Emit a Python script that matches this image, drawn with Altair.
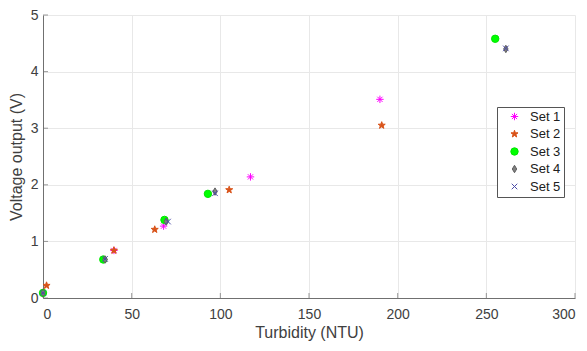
import altair as alt
import pandas as pd

# ---- data ----
set_names = ["Set 1", "Set 2", "Set 3", "Set 4", "Set 5"]
set1_x = [0, 40, 68, 117, 190]
set1_y = [0.09, 0.84, 1.27, 2.14, 3.51]
set2_x = [2, 40, 63, 105, 191]
set2_y = [0.22, 0.84, 1.21, 1.91, 3.05]
set3_x = [0, 34, 68.5, 93, 255]
set3_y = [0.09, 0.68, 1.38, 1.84, 4.58]
set4_x = [0, 35, 69.5, 97, 261]
set4_y = [0.09, 0.68, 1.35, 1.88, 4.40]
set5_x = [0, 35, 70.5, 97, 261]
set5_y = [0.09, 0.69, 1.35, 1.85, 4.41]
x_ticks = [0, 50, 100, 150, 200, 250, 300]
y_ticks = [0, 1, 2, 3, 4, 5]

rows = []
for name, xs, ys in zip(set_names,
                        [set1_x, set2_x, set3_x, set4_x, set5_x],
                        [set1_y, set2_y, set3_y, set4_y, set5_y]):
    for a, b in zip(xs, ys):
        rows.append({"set": name, "turbidity": a, "voltage": b})
df = pd.DataFrame(rows)

asterisk = "M-1,0L1,0M0,-1L0,1M-0.7,-0.7L0.7,0.7M-0.7,0.7L0.7,-0.7"
star = ("M0,-1L0.235,-0.324L0.951,-0.309L0.38,0.124L0.588,0.809L0,0.4"
        "L-0.588,0.809L-0.38,0.124L-0.951,-0.309L-0.235,-0.324Z")
diamond = "M0,-1L0.6,0L0,1L-0.6,0Z"
xmark = "M-0.75,-0.75L0.75,0.75M-0.75,0.75L0.75,-0.75"

shapes = [asterisk, star, "circle", diamond, xmark]
strokes = ["#FF00FF", "#D95319", "#00E600", "#5F5F5F", "#4B4BA8"]
fills = ["transparent", "#D95319", "#00FF00", "#808080", "transparent"]
sizes = [55, 55, 55, 70, 50]

axis_col = "#707070"
text_col = "#404040"
W, H = 532, 283

xs_scale = alt.Scale(domain=[0, 300], nice=False, zero=False)
ys_scale = alt.Scale(domain=[0, 5], nice=False, zero=False)
x_axis = alt.Axis(values=x_ticks, title="Turbidity (NTU)", grid=True, tickSize=0,
                  labelPadding=9, titlePadding=3)
y_axis = alt.Axis(values=y_ticks, title="Voltage output (V)", grid=True, tickSize=0,
                  labelPadding=5, titlePadding=6)

leg = alt.Legend(title=None)
points = alt.Chart(df).mark_point(strokeWidth=1, opacity=1).encode(
    x=alt.X("turbidity:Q", scale=xs_scale, axis=x_axis),
    y=alt.Y("voltage:Q", scale=ys_scale, axis=y_axis),
    shape=alt.Shape("set:N", scale=alt.Scale(domain=set_names, range=shapes), legend=leg),
    stroke=alt.Stroke("set:N", scale=alt.Scale(domain=set_names, range=strokes), legend=leg),
    fill=alt.Fill("set:N", scale=alt.Scale(domain=set_names, range=fills), legend=leg),
    size=alt.Size("set:N", scale=alt.Scale(domain=set_names, range=sizes), legend=leg),
)

xt = pd.DataFrame({"turbidity": x_ticks})
yt = pd.DataFrame({"voltage": y_ticks})
xtick_layer = alt.Chart(xt).mark_tick(orient="vertical", size=5, thickness=1,
                                      color=axis_col).encode(
    x=alt.X("turbidity:Q", scale=xs_scale, axis=x_axis),
    y=alt.value(H - 2.5),
)
ytick_layer = alt.Chart(yt).mark_tick(orient="horizontal", size=5, thickness=1,
                                      color=axis_col).encode(
    y=alt.Y("voltage:Q", scale=ys_scale, axis=y_axis),
    x=alt.value(2.5),
)

chart = alt.layer(xtick_layer, ytick_layer, points).properties(
    width=W, height=H,
    autosize=alt.AutoSizeParams(type="none"),
    padding={"left": 35, "top": 7, "right": 4, "bottom": 45},
).configure(font="Liberation Sans").configure_view(stroke=None).configure_axis(
    domainColor=axis_col, gridColor="#e8e8e8", labelColor=text_col, titleColor=text_col,
    labelFontSize=14, titleFontSize=16, titleFontWeight="normal", labelFont="Liberation Sans",
    titleFont="Liberation Sans",
).configure_legend(
    orient="none", legendX=454, legendY=92, strokeColor="#555555", fillColor="white",
    padding=3, rowPadding=3.5, symbolOffset=8, labelOffset=9, labelFontSize=13,
    labelColor="#202020", symbolStrokeWidth=1, labelFont="Liberation Sans",
    symbolType="circle",
)

chart.save("out.html", embed_options={"renderer": "svg", "actions": False})
